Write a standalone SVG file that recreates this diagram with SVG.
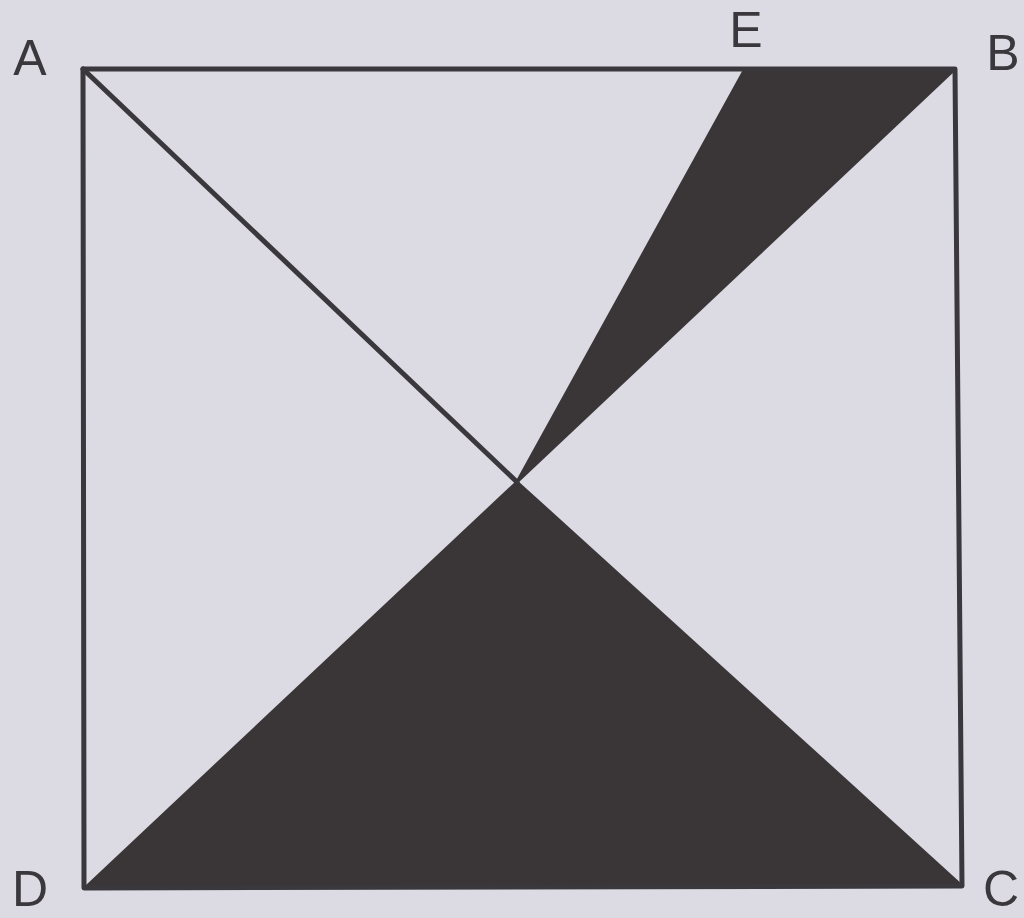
<svg xmlns="http://www.w3.org/2000/svg" width="1024" height="918" viewBox="0 0 1024 918">
<style>
.ln{stroke:#3a383d;stroke-width:5;fill:none;stroke-linejoin:round;stroke-linecap:round}
.sh{fill:#3a3638;stroke:#3a3638;stroke-width:3;stroke-linejoin:round}
.lb{font-family:"Liberation Sans",Arial,sans-serif;font-size:50px;fill:#3a383d}
</style>
<rect width="1024" height="918" fill="#dcdae2"/>
<g id="shaded">
<polygon class="sh" points="745,69 955,69 517,482"/>
<polygon class="sh" points="517,482 86,887 962,886"/>
</g>
<g id="lines">
<polygon class="ln" points="83,69 955,69 962,886 84,888"/>
<line class="ln" x1="83" y1="69" x2="517" y2="482"/>
</g>
<g id="labels">
<text class="lb" x="30" y="75" text-anchor="middle">A</text>
<text class="lb" x="746" y="47" text-anchor="middle">E</text>
<text class="lb" x="1003" y="70" text-anchor="middle">B</text>
<text class="lb" x="30" y="906" text-anchor="middle">D</text>
<text class="lb" x="1001" y="906" text-anchor="middle">C</text>
</g>
</svg>
